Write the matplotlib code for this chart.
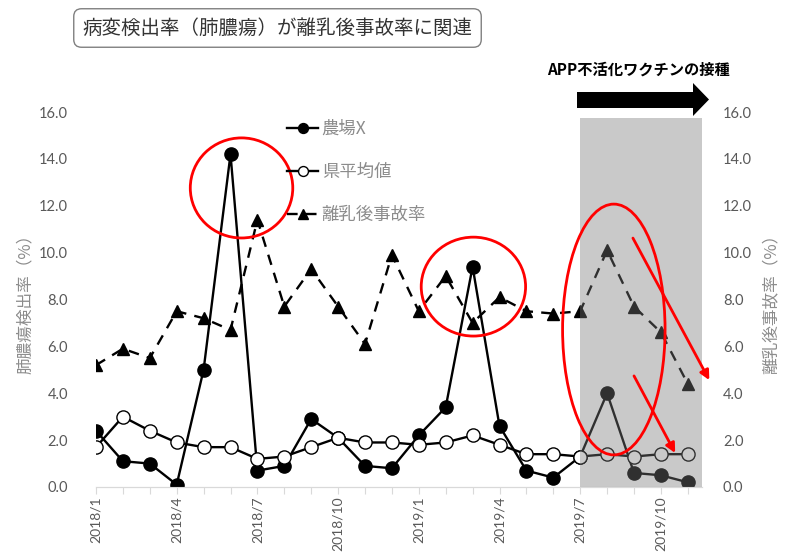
import matplotlib
matplotlib.use("Agg")
import matplotlib.pyplot as plt
from matplotlib.patches import Ellipse, Polygon, FancyArrowPatch, Rectangle

plt.rcParams['font.family'] = ['Noto Sans CJK JP', 'DejaVu Sans']

# --- data -------------------------------------------------------------
months = ["2018/1", "2018/2", "2018/3", "2018/4", "2018/5", "2018/6",
          "2018/7", "2018/8", "2018/9", "2018/10", "2018/11", "2018/12",
          "2019/1", "2019/2", "2019/3", "2019/4", "2019/5", "2019/6",
          "2019/7", "2019/8", "2019/9", "2019/10", "2019/11"]
farm_x = [2.4, 1.1, 1.0, 0.1, 5.0, 14.2, 0.7, 0.9, 2.9, 2.1, 0.9, 0.8,
          2.2, 3.4, 9.4, 2.6, 0.7, 0.4, 1.3, 4.0, 0.6, 0.5, 0.2]
pref_avg = [1.7, 3.0, 2.4, 1.9, 1.7, 1.7, 1.2, 1.3, 1.7, 2.1, 1.9, 1.9,
            1.8, 1.9, 2.2, 1.8, 1.4, 1.4, 1.3, 1.4, 1.3, 1.4, 1.4]
accident = [5.2, 5.9, 5.5, 7.5, 7.2, 6.7, 11.4, 7.7, 9.3, 7.7, 6.1, 9.9,
            7.5, 9.0, 7.0, 8.1, 7.5, 7.4, 7.5, 10.1, 7.7, 6.6, 4.4]
label_every = 3
vaccine_start = "2019/7"
y_ticks = [0, 2, 4, 6, 8, 10, 12, 14, 16]

series_names = ["農場X", "県平均値", "離乳後事故率"]

# --- figure -----------------------------------------------------------
W, H = 787, 553
fig = plt.figure(figsize=(W / 100, H / 100), dpi=100)
ax = fig.add_axes([96 / W, 1 - 487 / H, (702 - 96) / W, (487 - 112) / H])
ax2 = ax.twinx()

x = list(range(len(months)))
xmax = (702 - 96) / 26.9

tick_grey = "#595959"
label_grey = "#8c8c8c"
num_font = ["Lato", "DejaVu Sans"]

l1, = ax.plot(x, farm_x, color="black", lw=1.7, marker="o", ms=9.5,
              mfc="black", mec="black", mew=1, zorder=4)
l2, = ax.plot(x, pref_avg, color="black", lw=1.7, marker="o", ms=9.5,
              mfc="white", mec="black", mew=1, zorder=5)
l3, = ax2.plot(x, accident, color="black", lw=1.7, ls=(0, (4.5, 3.5)),
               marker="^", ms=9, mfc="black", mec="black", zorder=4)

for a in (ax, ax2):
    a.set_xlim(0, xmax)
    a.set_ylim(0, 16)
    a.set_yticks(y_ticks)
    a.set_yticklabels([f"{v:.1f}" for v in y_ticks], color=tick_grey,
                      fontsize=10.5, family=num_font)
    for s in ("top", "left", "right"):
        a.spines[s].set_visible(False)
    a.spines["bottom"].set_color("#d9d9d9")
    a.tick_params(axis="y", length=0)

ax.tick_params(axis="y", pad=20)
ax2.tick_params(axis="y", pad=15)

ax.set_xticks(x)
ax.set_xticklabels([m if i % label_every == 0 else "" for i, m in enumerate(months)],
                   rotation=90, color=tick_grey, fontsize=10, family=num_font)
ax.tick_params(axis="x", length=5, color="#d9d9d9", pad=2)
ax2.tick_params(axis="x", length=0)

ax.set_ylabel("肺膿瘍検出率（%）", color=label_grey, fontsize=12, labelpad=4)
ax2.set_ylabel("離乳後事故率（%）", color=label_grey, fontsize=12,
               rotation=90, labelpad=8)

# shaded vaccination period (translucent overlay above the lines)
xs = months.index(vaccine_start)
ax2.add_patch(Rectangle((xs, 0), xmax - xs, 15.75, facecolor="#7a7a7a",
                        alpha=0.4, edgecolor="none", zorder=6, clip_on=False))

# red highlight ellipses and arrows
red = "#ff0000"
for cx, cy, w, h in [(5.41, 12.76, 3.81, 4.27), (14.03, 8.55, 3.88, 4.22),
                     (19.25, 6.72, 3.81, 10.7)]:
    ax2.add_patch(Ellipse((cx, cy), w, h, fill=False, edgecolor=red, lw=2,
                          zorder=8, clip_on=False))
for (x0, y0), (x1, y1) in [((19.96, 10.62), (22.8, 4.56)),
                           ((20.0, 4.74), (21.53, 1.45))]:
    ax2.add_patch(FancyArrowPatch((x0, y0), (x1, y1), arrowstyle="-|>",
                                  mutation_scale=14, color=red, lw=2,
                                  zorder=8, clip_on=False,
                                  shrinkA=0, shrinkB=0))

# legend
leg = ax2.legend([l1, l2, l3], series_names, loc="upper left",
                 bbox_to_anchor=(287 / W, 1 - 120 / H),
                 bbox_transform=fig.transFigure, frameon=False,
                 handlelength=1.8, handletextpad=0.2, labelspacing=1.45,
                 borderpad=0, borderaxespad=0, fontsize=12.5, markerscale=0.75)
for t in leg.get_texts():
    t.set_color(label_grey)
leg.set_zorder(9)

# title box
fig.text(277.5 / W, 1 - 28 / H, "病変検出率（肺膿瘍）が離乳後事故率に関連",
         ha="center", va="center", fontsize=14, color="#333333",
         bbox=dict(boxstyle="round,pad=0.45,rounding_size=0.4",
                   fc="white", ec="#808080", lw=1))

# vaccination arrow and caption
def px(xp, yp):
    return (xp / W, 1 - yp / H)

arrow_pts = [px(577, 92), px(693, 92), px(693, 83), px(709, 99.5),
             px(693, 116), px(693, 108), px(577, 108)]
fig.patches.append(Polygon(arrow_pts, closed=True, facecolor="black",
                           edgecolor="none", transform=fig.transFigure))
fig.text(547 / W, 1 - 70 / H, "APP不活化ワクチンの接種", ha="left",
         va="center", fontsize=11, fontweight="bold", color="black")

fig.savefig("out.png", dpi=100)
